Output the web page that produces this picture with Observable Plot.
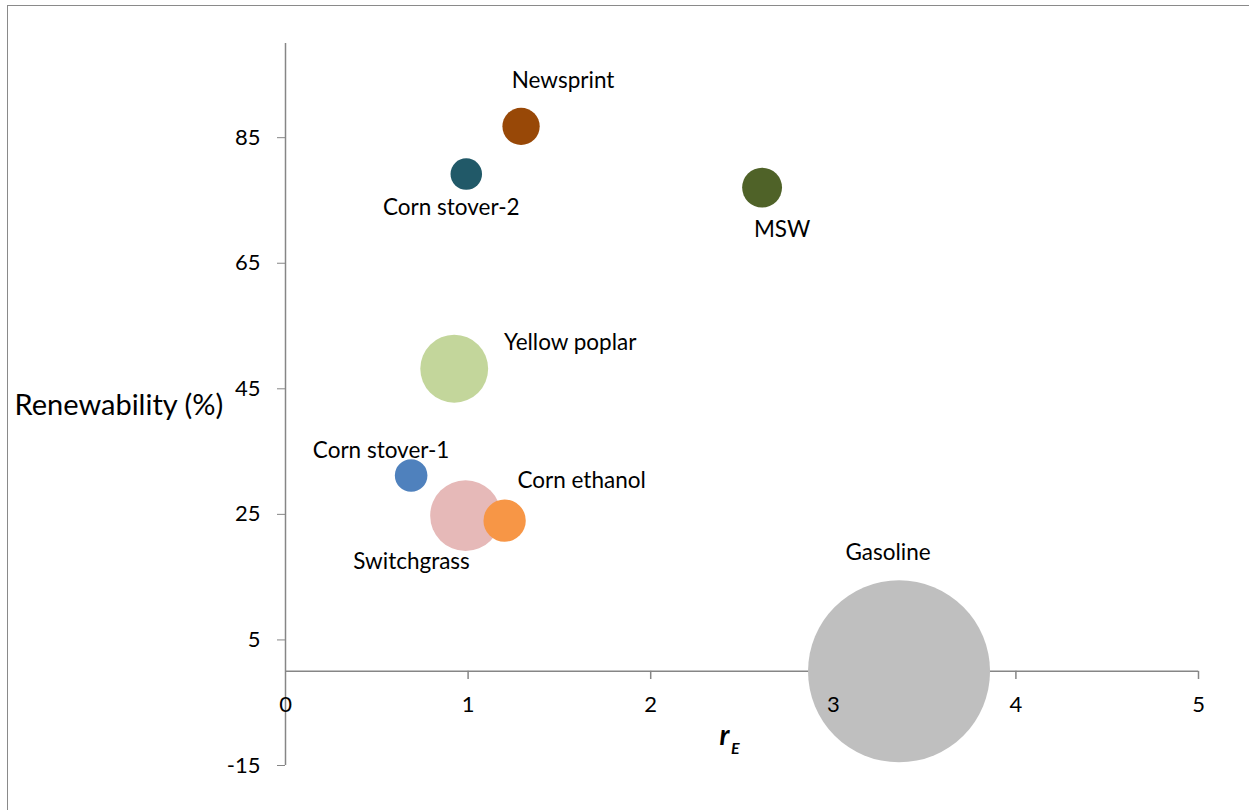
<!DOCTYPE html>
<html>
<head>
<meta charset="utf-8">
<script src="https://cdn.jsdelivr.net/npm/d3@7"></script>
<script src="https://cdn.jsdelivr.net/npm/@observablehq/plot@0.6"></script>
<style>
  html, body { margin: 0; padding: 0; background: #fff; overflow: hidden; }
  #wrap { position: relative; width: 1249px; height: 810px; }
  #frame { position: absolute; left: 7px; top: 5px; width: 1300px; height: 900px;
           border: 1.5px solid #8a8a8a; box-sizing: border-box; pointer-events: none; }
  #chart { position: absolute; left: 0; top: 0; }
</style>
</head>
<body>
<div id="wrap"><div id="chart"></div><div id="frame"></div></div>
<script>
// ---- data ----
const names = ["Newsprint", "Corn stover-2", "MSW", "Yellow poplar", "Corn stover-1", "Switchgrass", "Corn ethanol", "Gasoline"];
const rE = [1.29, 0.99, 2.61, 0.924, 0.688, 0.986, 1.2, 3.36];
const renewability = [86.8, 79.2, 77.05, 48.2, 31.2, 24.8, 24.0, 0];
const bubbleSize = [4.2, 3.0, 4.8, 13.9, 3.2, 15.1, 5.4, 100];
const colors = ["#984807", "#215968", "#4f6228", "#c3d69b", "#4f81bd", "#e6b9b8", "#f79646", "#bfbfbf"];
const xTicks = [0, 1, 2, 3, 4, 5];
const yTicks = [-15, 5, 25, 45, 65, 85];
const xTitle = "r";
const xTitleSub = "E";
const yTitle = "Renewability (%)";

// label placement (pixel offsets from bubble centre)
const labelDx = [42, -15, 20, 116, -30, -54, 77, -11];
const labelDy = [-45.5, 34, 42, -26, -25, 46, -40, -119];

const data = names.map((n, i) => ({name: n, x: rE[i], y: renewability[i], s: bubbleSize[i], c: colors[i], dx: labelDx[i], dy: labelDy[i]}));

const font = "Lato, 'Open Sans', sans-serif";
const axisColor = "#868686";

const chart = Plot.plot({
  width: 1249,
  height: 810,
  marginLeft: 285,
  marginRight: 51,
  marginTop: 43,
  marginBottom: 45,
  style: {fontFamily: font, background: "transparent", color: "#000"},
  x: {domain: [0, 5], axis: null},
  y: {domain: [-15, 100], axis: null},
  r: {type: "sqrt", domain: [0, 100], range: [0, 91]},
  marks: [
    // y axis line and ticks
    Plot.ruleX([0], {y1: -15, y2: 100, stroke: axisColor, strokeWidth: 1.5}),
    Plot.axisY(yTicks, {tickSize: 8, tickPadding: 17, stroke: axisColor, color: "#000", fontSize: 22,
      tickFormat: d => String(d), label: null}),
    // x axis line at y = 0 with ticks
    Plot.ruleY([0], {x1: 0, x2: 5, stroke: axisColor, strokeWidth: 1.5}),
    Plot.ruleX(xTicks.slice(1), {x: d => d, y1: 0, y2: -1.3, stroke: axisColor, strokeWidth: 1.5}),
    // bubbles
    Plot.dot(data, {x: "x", y: "y", r: "s", fill: "c", stroke: "none", fillOpacity: 1}),
    // x tick labels (drawn above bubbles)
    Plot.text(xTicks, {x: d => d, y: 0, dy: 34, text: d => String(d), fontSize: 22, fill: "#000"}),
    // labels
    ...data.map(d => Plot.text([d], {x: "x", y: "y", text: "name", dx: d.dx, dy: d.dy, fontSize: 22.5, fill: "#000"})),
    // axis titles
    Plot.text([yTitle], {frameAnchor: "left", text: d => d, textAnchor: "start", dx: -271, dy: 1, fontSize: 29, fill: "#000"}),
    Plot.text([xTitle], {frameAnchor: "bottom", text: d => d, textAnchor: "start", dx: -22.5, dy: -21, fontSize: 28, fontWeight: "bold", fontStyle: "italic", fill: "#000"}),
    Plot.text([xTitleSub], {frameAnchor: "bottom", text: d => d, textAnchor: "start", dx: -11, dy: -12, fontSize: 16, fontWeight: "bold", fontStyle: "italic", fill: "#000"})
  ]
});
document.getElementById("chart").appendChild(chart);
</script>
</body>
</html>
